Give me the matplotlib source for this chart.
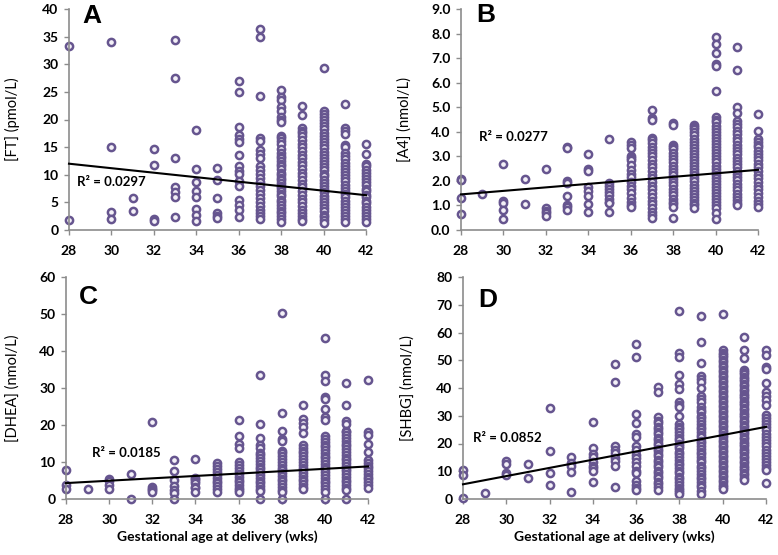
import matplotlib
matplotlib.use("Agg")
import matplotlib.pyplot as plt
import numpy as np

# ---------------- data ----------------
weeks = [28, 29, 30, 31, 32, 33, 34, 35, 36, 37, 38, 39, 40, 41, 42]
x_ticks = [28, 30, 32, 34, 36, 38, 40, 42]

ft_values = [
    [33.3, 1.9],
    [],
    [34.0, 15.0, 3.3, 2.0],
    [5.8, 3.5],
    [14.7, 11.7, 2.0, 1.6],
    [34.3, 27.6, 13.0, 7.7, 6.9, 5.9, 2.4],
    [18.1, 11.1, 8.7, 7.0, 6.0, 3.8, 2.7, 1.7],
    [11.3, 9.0, 5.8, 3.1, 2.6, 2.1],
    [27.0, 25.0, 18.6, 17.2, 16.4, 15.9, 13.5, 11.6, 10.7, 10.1, 8.8, 7.9, 5.4, 4.6, 3.6, 2.4],
    [36.3, 35.0, 24.3, 16.6, 16.1, 14.4, 13.7, 13.0, 11.6, 10.9, 10.2, 9.4, 8.7, 8.0, 7.3, 6.5,
     5.8, 5.1, 4.4, 3.7, 3.0, 2.5, 2.0],
    [25.3, 24.0, 23.5, 22.2, 21.5, 20.5, 20.0, 19.5, 17.0, 16.6, 16.1, 15.5, 14.6, 14.0, 13.4,
     13.0, 12.4, 11.9, 11.5, 11.0, 10.4, 10.0, 9.5, 9.1, 8.5, 8.0, 7.6, 7.0, 6.5, 6.1, 5.5, 5.0,
     4.6, 4.0, 3.5, 3.1, 2.5, 2.0, 1.5],
    [22.4, 20.9, 18.4, 18.0, 17.6, 17.0, 16.3, 15.6, 15.0, 14.3, 13.6, 13.0, 12.3, 11.7, 11.0,
     10.3, 9.7, 9.0, 8.4, 7.7, 7.0, 6.4, 5.7, 5.0, 4.4, 3.7, 3.1, 2.5, 2.0, 1.7],
    [29.3, 21.5, 21.0, 20.5, 20.0, 19.4, 18.8, 18.2, 17.6, 17.0, 16.5, 16.0, 15.4, 14.8, 14.2,
     13.6, 13.0, 12.5, 12.0, 11.4, 10.8, 10.2, 9.7, 9.1, 8.5, 8.0, 7.4, 6.8, 6.2, 5.7, 5.1, 4.5,
     4.0, 3.4, 2.8, 2.3, 1.8, 1.3],
    [22.8, 18.4, 18.0, 17.4, 15.4, 15.0, 14.0, 13.4, 12.8, 12.2, 11.6, 11.0, 10.5, 10.0, 9.4,
     8.8, 8.2, 7.6, 7.0, 6.5, 5.9, 5.3, 4.7, 4.2, 3.6, 3.0, 2.5, 2.0, 1.5],
    [15.6, 13.7, 12.0, 11.6, 10.8, 10.3, 9.8, 9.2, 8.6, 8.1, 7.5, 7.0, 6.4, 5.9, 5.3, 4.8, 4.2,
     3.7, 3.1, 2.6, 2.0, 1.5],
]

a4_values = [
    [2.08, 2.05, 1.32, 0.67],
    [1.47],
    [2.67, 1.18, 1.10, 0.80, 0.45],
    [2.07, 1.05],
    [2.50, 0.88, 0.78, 0.68, 0.57],
    [3.37, 3.32, 2.00, 1.93, 1.40, 1.02, 0.95, 0.82],
    [3.10, 2.47, 2.42, 1.75, 1.58, 1.40, 1.05, 0.75],
    [3.72, 1.93, 1.80, 1.68, 1.55, 1.42, 1.25, 1.15, 1.08, 0.75],
    [3.57, 3.47, 3.35, 3.02, 2.95, 2.85, 2.65, 2.45, 2.30, 2.15, 1.95, 1.80, 1.65, 1.50, 1.30,
     1.15, 1.02, 0.93],
    [4.88, 4.55, 4.48, 3.75, 3.65, 3.55, 3.40, 3.25, 3.15, 3.00, 2.85, 2.70, 2.55, 2.40, 2.25,
     2.10, 1.95, 1.80, 1.65, 1.50, 1.35, 1.20, 1.05, 0.90, 0.75, 0.62, 0.50],
    [4.35, 4.28, 3.48, 3.40, 3.28, 3.15, 3.02, 2.88, 2.75, 2.62, 2.48, 2.35, 2.22, 2.08, 1.95,
     1.82, 1.68, 1.55, 1.42, 1.28, 1.15, 1.05, 0.95, 0.48],
    [4.28, 4.20, 4.10, 3.98, 3.85, 3.72, 3.60, 3.48, 3.35, 3.22, 3.10, 2.98, 2.85, 2.72, 2.60,
     2.48, 2.35, 2.22, 2.10, 1.98, 1.85, 1.72, 1.60, 1.48, 1.35, 1.22, 1.10, 1.00, 0.90],
    [7.85, 7.56, 7.22, 6.78, 6.68, 5.66, 4.62, 4.50, 4.38, 4.25, 4.12, 4.00, 3.88, 3.75, 3.62,
     3.50, 3.38, 3.25, 3.12, 3.00, 2.88, 2.75, 2.62, 2.50, 2.38, 2.25, 2.12, 2.00, 1.88, 1.75,
     1.62, 1.50, 1.38, 1.25, 1.12, 1.00, 0.88, 0.68, 0.45],
    [7.45, 6.53, 5.02, 4.75, 4.42, 4.32, 4.20, 4.05, 3.90, 3.75, 3.62, 3.48, 3.35, 3.22, 3.08,
     2.95, 2.82, 2.68, 2.55, 2.42, 2.28, 2.15, 2.02, 1.88, 1.75, 1.62, 1.48, 1.35, 1.22, 1.10,
     1.00],
    [4.71, 4.03, 3.72, 3.60, 3.45, 3.38, 3.22, 3.08, 2.98, 2.85, 2.70, 2.55, 2.40, 2.25, 2.10,
     1.95, 1.80, 1.65, 1.50, 1.35, 1.20, 1.05, 0.92],
]

dhea_values = [
    [7.9, 3.8, 2.7],
    [2.7],
    [5.4, 4.8, 3.8, 2.6],
    [6.7, 0.1],
    [20.7, 3.2, 2.8, 2.4, 1.9],
    [10.5, 7.6, 5.1, 3.4, 2.5, 1.6, 0.1],
    [10.7, 5.8, 5.3, 4.8, 4.3, 3.3, 2.9, 2.0],
    [9.6, 9.0, 8.1, 7.3, 6.5, 5.8, 5.0, 4.3, 3.5, 2.8, 2.0],
    [21.4, 17.0, 14.9, 13.7, 10.0, 9.1, 8.3, 7.5, 6.8, 6.0, 5.2, 4.5, 3.7, 3.0, 2.3, 1.8],
    [33.5, 20.2, 16.4, 14.5, 13.8, 12.5, 11.8, 11.0, 10.2, 9.5, 8.7, 8.0, 7.3, 6.5, 5.8, 5.0,
     4.3, 3.5, 2.8, 2.2, 0.1],
    [50.2, 23.2, 18.5, 16.2, 15.8, 13.0, 12.3, 11.5, 10.8, 10.0, 9.3, 8.5, 7.8, 7.0, 6.3, 5.5,
     4.8, 4.0, 3.3, 2.5, 1.8, 0.1],
    [25.4, 21.6, 20.5, 19.4, 17.8, 14.5, 13.8, 13.0, 12.3, 11.5, 10.8, 10.0, 9.3, 8.5, 7.8, 7.0,
     6.3, 5.5, 4.8, 4.0, 3.3, 2.6],
    [43.6, 33.5, 31.9, 27.7, 27.0, 24.2, 22.2, 21.4, 17.0, 16.2, 15.5, 14.7, 14.0, 13.2, 12.5,
     11.7, 11.0, 10.2, 9.5, 8.7, 8.0, 7.2, 6.5, 5.7, 5.0, 4.2, 3.5, 2.7, 2.0, 0.1],
    [31.3, 25.5, 21.0, 20.4, 18.5, 18.0, 17.4, 16.5, 15.7, 15.0, 14.2, 13.5, 12.7, 12.0, 11.2,
     10.5, 9.7, 9.0, 8.2, 7.5, 6.7, 6.0, 5.2, 4.5, 3.7, 3.0, 2.4, 0.1],
    [32.1, 18.0, 17.3, 15.0, 12.6, 10.5, 9.8, 9.0, 8.3, 7.5, 6.8, 6.0, 5.3, 4.5, 3.8, 3.0],
]

shbg_values = [
    [10.5, 8.6, 0.5],
    [2.2],
    [13.8, 12.6, 9.2, 8.5],
    [12.5, 7.6],
    [32.7, 17.4, 9.3, 5.2],
    [15.0, 13.0, 12.0, 9.8, 2.7],
    [27.6, 18.2, 16.3, 15.0, 13.5, 12.0, 11.3, 10.1, 6.3],
    [48.8, 42.0, 19.0, 17.6, 16.6, 14.6, 13.6, 12.0, 4.5],
    [56.0, 51.0, 30.8, 27.3, 23.3, 22.3, 19.0, 17.8, 16.0, 14.8, 13.5, 12.0, 10.0, 9.2, 6.5,
     5.2, 3.8, 3.1],
    [40.5, 38.7, 29.4, 28.2, 27.5, 26.1, 25.4, 24.2, 23.5, 22.1, 21.4, 20.2, 19.5, 18.1, 17.4,
     16.2, 15.5, 14.1, 13.4, 12.2, 11.5, 10.1, 9.4, 8.2, 7.5, 6.1, 5.4, 4.2, 3.3],
    [67.9, 52.7, 51.1, 44.6, 41.3, 39.5, 35.0, 34.0, 33.0, 30.0, 27.0, 26.0, 25.1, 24.2, 23.0,
     22.1, 21.2, 20.0, 19.1, 18.2, 17.0, 16.1, 15.2, 14.0, 13.1, 12.2, 11.0, 10.1, 9.2, 8.0,
     7.1, 6.2, 5.0, 4.1, 3.2, 2.5, 1.8],
    [66.0, 56.5, 49.1, 44.2, 43.2, 42.0, 40.0, 37.0, 36.0, 35.0, 33.0, 32.1, 31.2, 30.0, 29.1,
     28.2, 27.0, 26.1, 25.2, 24.0, 23.1, 22.2, 21.0, 20.1, 19.2, 18.0, 17.1, 16.2, 15.0, 14.1,
     13.2, 12.0, 11.1, 10.2, 9.0, 8.1, 7.2, 6.0, 5.1, 4.2, 3.0, 1.8],
    [66.7, 53.7, 52.7, 51.9, 51.1, 50.0, 49.3, 48.2, 47.5, 46.4, 45.7, 44.6, 43.9, 42.8, 42.1,
     41.0, 40.3, 39.2, 38.5, 37.4, 36.7, 35.6, 34.9, 33.8, 33.1, 32.0, 31.3, 30.2, 29.5, 28.4,
     27.7, 26.6, 25.9, 24.8, 24.1, 23.0, 22.3, 21.2, 20.5, 19.4, 18.7, 17.6, 16.9, 15.8, 15.1,
     14.0, 13.3, 12.2, 11.5, 10.4, 9.7, 8.6, 7.9, 6.8, 6.1, 5.0, 4.3, 3.7],
    [58.3, 53.7, 50.7, 46.6, 45.8, 45.0, 44.1, 43.2, 42.4, 41.5, 40.6, 39.8, 38.9, 38.0, 37.2,
     36.3, 35.4, 34.6, 33.7, 32.8, 32.0, 31.1, 30.2, 29.4, 28.5, 27.6, 26.8, 25.9, 25.0, 24.2,
     23.3, 22.4, 21.6, 20.7, 19.8, 19.0, 18.1, 17.2, 16.4, 15.5, 14.6, 13.8, 12.9, 12.0, 11.2,
     10.3, 9.4, 8.6, 7.7, 6.8],
    [53.8, 52.0, 47.5, 47.0, 41.9, 38.5, 37.0, 35.5, 33.8, 30.2, 29.3, 28.2, 27.0, 25.8, 24.7,
     23.5, 22.4, 21.2, 20.1, 19.0, 17.8, 16.7, 15.5, 14.4, 13.2, 12.1, 11.0, 10.5, 5.6],
]

# linear trend values at 28 and 42 weeks, and R^2 labels
trend_x = [28, 42]
ft_trend = [12.0, 6.3]
a4_trend = [1.45, 2.45]
dhea_trend = [4.3, 8.8]
shbg_trend = [5.3, 26.0]
r2_labels = ["R\u00b2 = 0.0297", "R\u00b2 = 0.0277", "R\u00b2 = 0.0185", "R\u00b2 = 0.0852"]
panel_letters = ["A", "B", "C", "D"]
y_labels = ["[FT] (pmol/L)", "[A4] (nmol/L)", "[DHEA] (nmol/L)", "[SHBG] (nmol/L)"]
x_label = "Gestational age at delivery (wks)"

# ---------------- figure ----------------
plt.rcParams['font.family'] = ['Lato', 'DejaVu Sans']
fig = plt.figure(figsize=(7.78, 5.55), dpi=100)

W, H = 778, 555
def px_axes(l, r, t, b):
    return fig.add_axes([l / W, (H - b) / H, (r - l) / W, (b - t) / H])

axes = [
    px_axes(69, 366, 9, 230),
    px_axes(461, 758, 9, 230),
    px_axes(66, 368, 277, 499),
    px_axes(463, 766, 277, 499),
]

panels = [
    (ft_values, ft_trend, (0, 40), np.arange(0, 41, 5), "{:.0f}", (0.028, 8.6)),
    (a4_values, a4_trend, (0, 9), np.arange(0, 9.01, 1.0), "{:.1f}", (0.06, 3.78)),
    (dhea_values, dhea_trend, (0, 60), np.arange(0, 61, 10), "{:.0f}", (0.085, 12.4)),
    (shbg_values, shbg_trend, (0, 80), np.arange(0, 81, 10), "{:.0f}", (0.032, 22.0)),
]
letter_pos = [(0.044, 0.968), (0.05, 0.971), (0.043, 0.908), (0.05, 0.896)]
ylabel_x = [12, 405, 13, 408]

edge_c = "#66558F"
face_c = "#F3F0F7"
spine_c = "#8C8C8C"

for i, (ax, (vals, trend, ylim, yt, fmt, r2pos)) in enumerate(zip(axes, panels)):
    xs, ys = [], []
    for w, col in zip(weeks, vals):
        xs.extend([w] * len(col))
        ys.extend(col)
    ax.scatter(xs, ys, s=27, facecolors=face_c, edgecolors=edge_c, linewidths=1.8,
               clip_on=False, zorder=2)
    ax.plot(trend_x, trend, color="black", lw=1.5, zorder=3, clip_on=False)
    ax.set_xlim(28, 42)
    ax.set_ylim(*ylim)
    ax.set_xticks(x_ticks)
    ax.set_yticks(yt)
    ax.set_yticklabels([fmt.format(v) for v in yt])
    for s in ["top", "right"]:
        ax.spines[s].set_visible(False)
    for s in ["left", "bottom"]:
        ax.spines[s].set_color(spine_c)
        ax.spines[s].set_linewidth(1.2)
    ax.tick_params(axis="both", colors=spine_c, length=3.5, width=1.0, labelcolor="black",
                   labelsize=10)
    ax.tick_params(axis="x", pad=7)
    ax.tick_params(axis="y", pad=4)
    for lab in ax.get_xticklabels() + ax.get_yticklabels():
        lab.set_fontweight("bold")
    ax.patch.set_alpha(0)
    ax.text(letter_pos[i][0], letter_pos[i][1], panel_letters[i], transform=ax.transAxes,
            ha="left", va="center", fontsize=19, fontweight="bold",
            family=["Liberation Sans", "DejaVu Sans"])
    ax.text(28 + r2pos[0] * 14, r2pos[1], r2_labels[i], ha="left", va="center",
            fontsize=9.5, fontweight="bold")
    # y label
    bb = ax.get_position()
    fig.text(ylabel_x[i] / W, bb.y0 + bb.height / 2, y_labels[i], rotation=90,
             ha="center", va="center", fontsize=10.5)

for ax in axes[2:]:
    bb = ax.get_position()
    fig.text(bb.x0 + bb.width / 2, (H - 537) / H, x_label, ha="center", va="center",
             fontsize=10, fontweight="bold")

fig.savefig("out.png", dpi=100)
